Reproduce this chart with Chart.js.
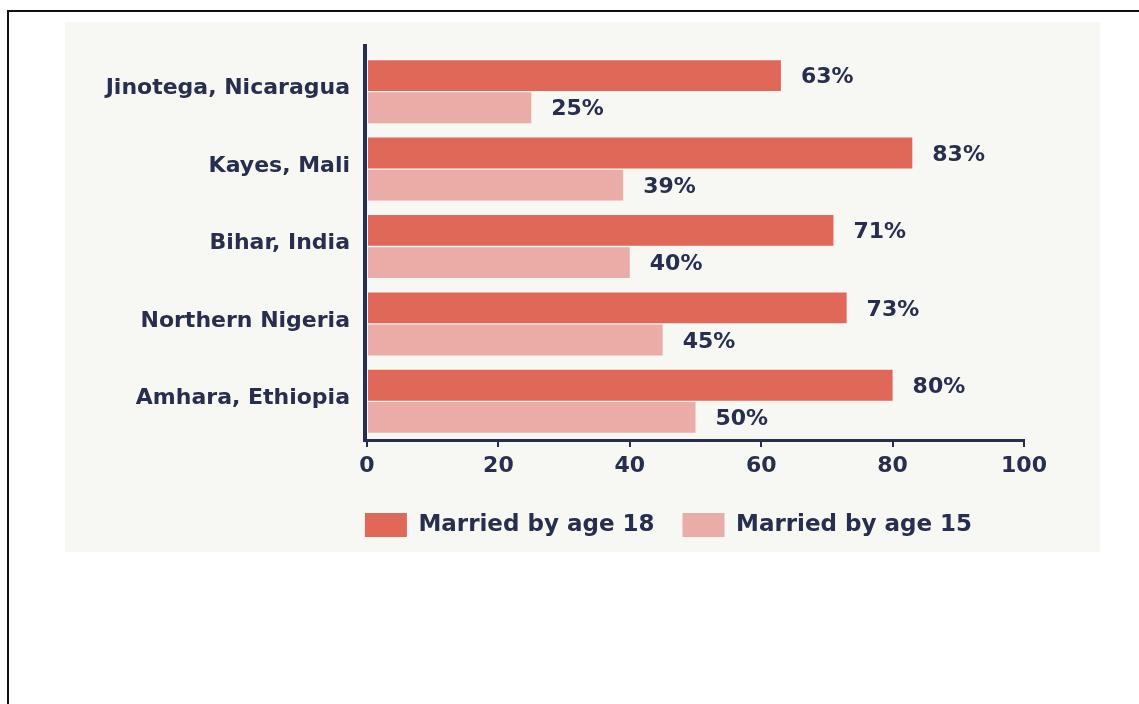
<!DOCTYPE html>
<html>
<head>
<meta charset="utf-8">
<title>Child marriage by region</title>
<script src="https://cdn.jsdelivr.net/npm/chart.js@4.4.1/dist/chart.umd.min.js"></script>
<style>
  html, body { margin: 0; padding: 0; background: #fff; overflow: hidden; }
  #frame { position: absolute; left: 7px; top: 10px; width: 1200px; height: 800px; border-left: 2px solid #111; border-top: 2px solid #111; }
  #paper { position: absolute; left: 65px; top: 22px; width: 1035px; height: 530px; background: #f7f7f3; }
  #chart { position: absolute; left: 0; top: 0; }
</style>
</head>
<body>
<div id="frame"></div>
<div id="paper"></div>
<canvas id="chart" width="1139" height="704"></canvas>
<script>
const regions = ['Jinotega, Nicaragua', 'Kayes, Mali', 'Bihar, India', 'Northern Nigeria', 'Amhara, Ethiopia'];
const marriedBy18 = [63, 83, 71, 73, 80];
const marriedBy15 = [25, 39, 40, 45, 50];
const xTicks = [0, 20, 40, 60, 80, 100];

const navy = '#272e4e';
const fontFamily = '"DejaVu Sans", Verdana, sans-serif';

// percentage written just past the end of each bar
const valueLabels = {
  id: 'valueLabels',
  afterDatasetsDraw(chart) {
    const ctx = chart.ctx;
    ctx.save();
    ctx.font = 'bold 22px ' + fontFamily;
    ctx.fillStyle = navy;
    ctx.textAlign = 'left';
    ctx.textBaseline = 'middle';
    chart.data.datasets.forEach((ds, i) => {
      chart.getDatasetMeta(i).data.forEach((bar, j) => {
        ctx.fillText(ds.data[j] + '%', bar.x + 20, bar.y + 2);
      });
    });
    ctx.restore();
  }
};

// heavy vertical axis line, runs a little above the first bar
const axisLine = {
  id: 'axisLine',
  afterDatasetsDraw(chart) {
    const { ctx, chartArea } = chart;
    ctx.save();
    ctx.strokeStyle = navy;
    ctx.lineWidth = 4;
    ctx.beginPath();
    ctx.moveTo(chartArea.left - 2, chartArea.top - 9);
    ctx.lineTo(chartArea.left - 2, chartArea.bottom + 2);
    ctx.stroke();
    ctx.restore();
  }
};

// the key is centred under the axis plus a strip to its left,
// not under the whole canvas
const legendPlacement = {
  id: 'legendPlacement',
  afterLayout(chart) {
    chart.legend.left = chart.chartArea.left - 54;
    chart.legend.right = chart.chartArea.right;
  }
};

Chart.defaults.font.family = fontFamily;
Chart.defaults.font.weight = 'bold';
Chart.defaults.color = navy;

new Chart(document.getElementById('chart').getContext('2d'), {
  type: 'bar',
  data: {
    labels: regions,
    datasets: [
      {
        label: 'Married by age 18',
        data: marriedBy18,
        backgroundColor: '#e06858',
        categoryPercentage: 0.83,
        barPercentage: 0.96
      },
      {
        label: 'Married by age 15',
        data: marriedBy15,
        backgroundColor: '#eaaca7',
        categoryPercentage: 0.83,
        barPercentage: 0.96
      }
    ]
  },
  options: {
    indexAxis: 'y',
    responsive: false,
    animation: false,
    devicePixelRatio: 1,
    layout: {
      padding: { left: 60, right: 115, top: 53, bottom: 157 }
    },
    scales: {
      x: {
        min: 0,
        max: 100,
        afterBuildTicks: (scale) => { scale.ticks = xTicks.map(v => ({ value: v })); },
        afterFit: (scale) => { scale.height = 45; },
        grid: { drawOnChartArea: false, drawTicks: true, tickLength: 7, color: navy, lineWidth: 2 },
        border: { display: true, color: navy, width: 3 },
        ticks: { font: { size: 22, weight: 'bold' }, color: navy, padding: 6 }
      },
      y: {
        afterFit: (scale) => { scale.width = 307; },
        grid: { display: false, drawTicks: false },
        border: { display: false },
        ticks: { font: { size: 22, weight: 'bold' }, color: navy, padding: 17, labelOffset: -3 }
      }
    },
    plugins: {
      legend: {
        position: 'bottom',
        align: 'center',
        labels: {
          boxWidth: 42,
          boxHeight: 24,
          padding: 28,
          color: navy,
          font: { size: 23, weight: 'bold' }
        }
      },
      tooltip: { enabled: false }
    }
  },
  plugins: [valueLabels, axisLine, legendPlacement]
});
</script>
</body>
</html>
